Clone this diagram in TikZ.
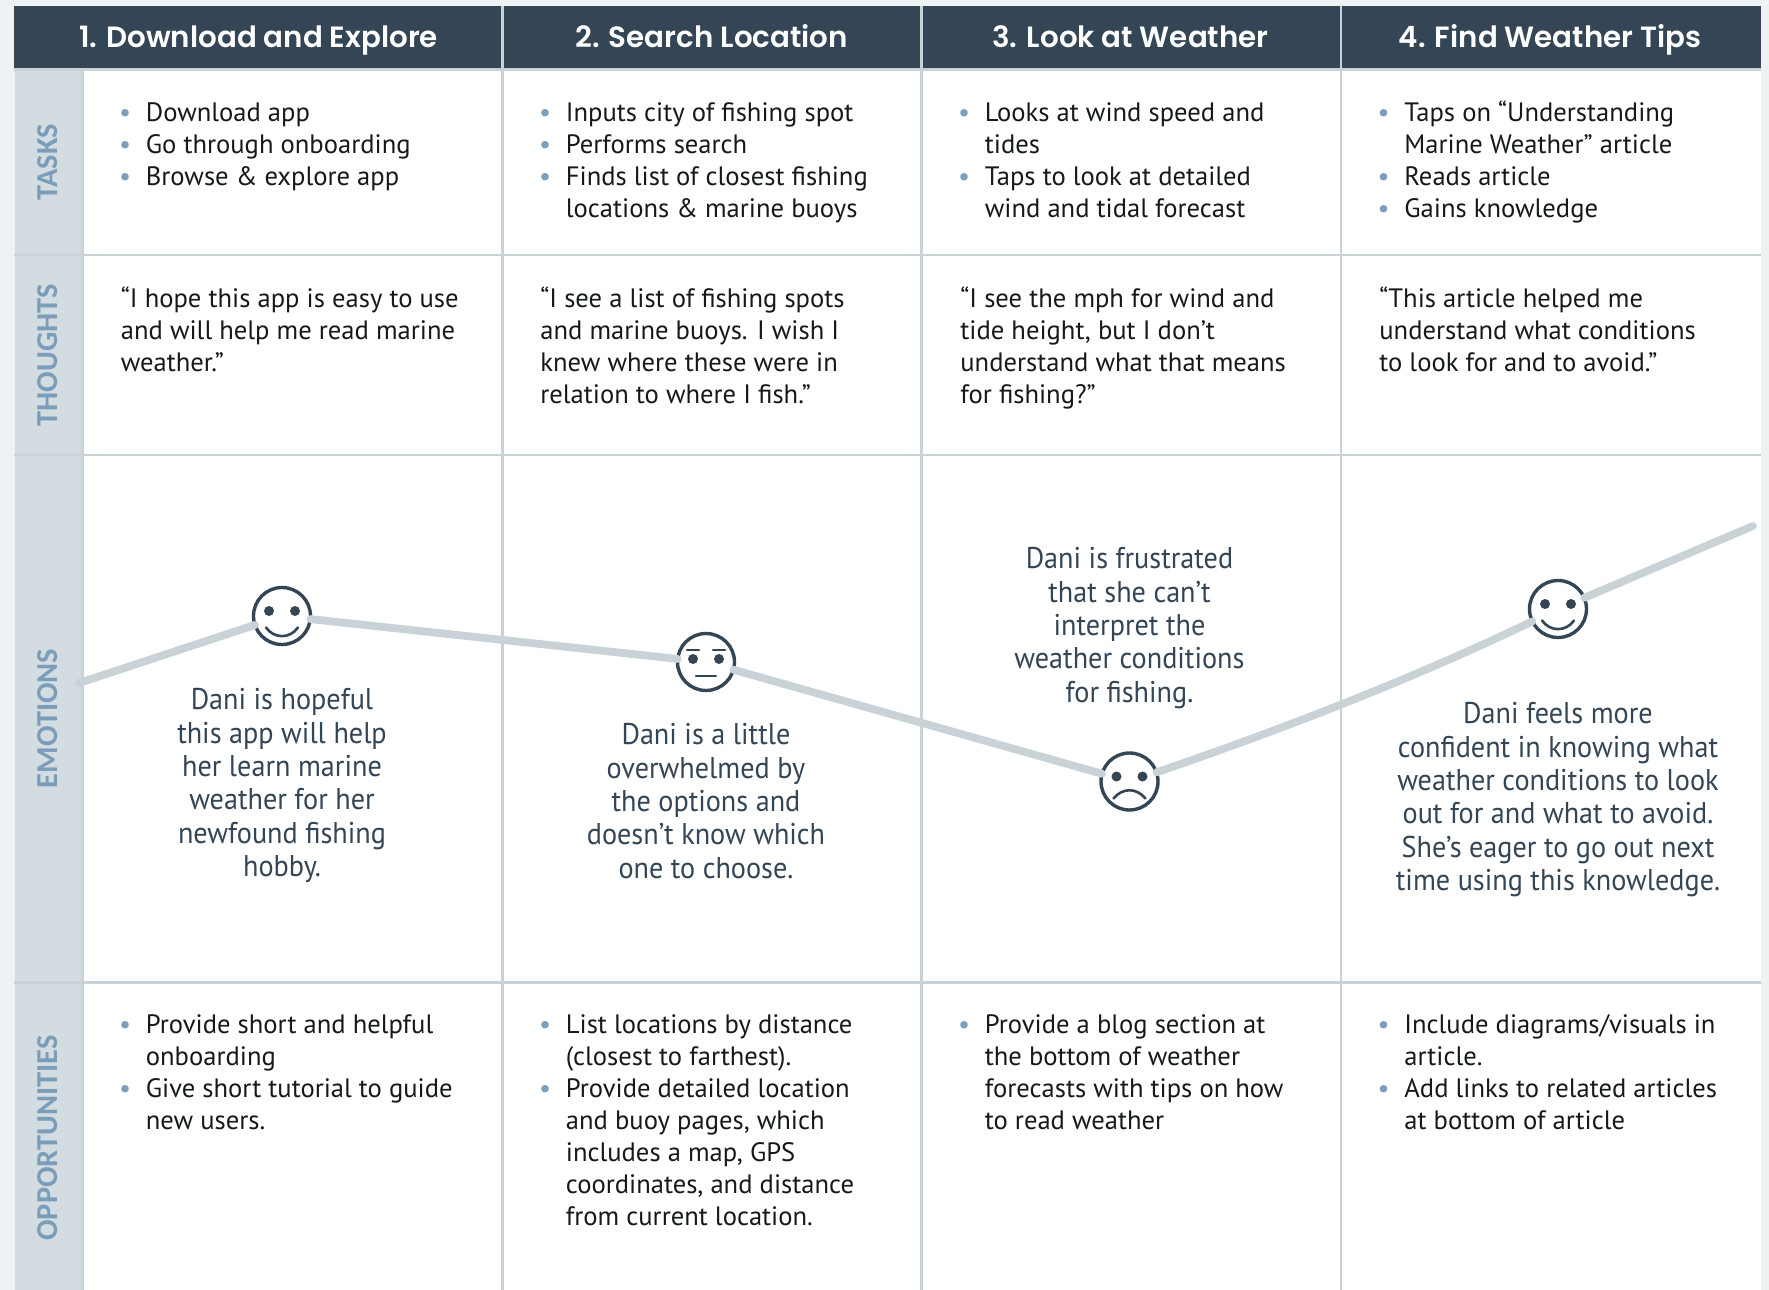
\documentclass[tikz,border=0pt]{standalone}
\usepackage{fontspec}
\setmainfont{PT Sans}
\newfontfamily\headfont{Poppins SemiBold}
\newfontfamily\sidefont{Carlito}
\newfontfamily\emofont[FakeStretch=0.94]{PT Sans}
\definecolor{pagebg}{HTML}{EEF2F3}
\definecolor{navy}{HTML}{344655}
\definecolor{rulec}{HTML}{C9D2D6}
\definecolor{sidec}{HTML}{D3DCE0}
\definecolor{sidet}{HTML}{7A9DBA}
\definecolor{bulc}{HTML}{7A9FBC}
\definecolor{inkc}{HTML}{15191C}
\newcommand{\bl}{\vphantom{“}\llap{\textcolor{bulc}{•}\hspace{7.4pt}}}
\tikzset{
  x=0.5pt,y=-0.5pt,
  headlabel/.style={anchor=base,text=white,font=\headfont\fontsize{14.65}{18}\selectfont,inner sep=0pt},
  sidelabel/.style={text=sidet,font=\sidefont\bfseries\fontsize{15.2}{16}\selectfont,rotate=90,inner sep=0pt},
  cell/.style={anchor=north west,align=left,inner sep=0pt,text=inkc,font=\fontsize{13.3}{16}\selectfont},
  emo/.style={anchor=north,align=center,inner sep=0pt,text=navy,font=\emofont\fontsize{15}{16.7}\selectfont},
  grid/.style={draw=rulec,line width=1.4pt},
  wave/.style={draw=rulec,line width=3.9pt,line cap=round},
  face/.style={circle,draw=navy,line width=1.7pt,fill=white,minimum size=28.5pt,inner sep=0pt,outer sep=0pt},
  facepart/.style={draw=navy,line width=1.3pt,line cap=round},
  eye/.style={fill=navy,draw=none},
}
\begin{document}
\begin{tikzpicture}
\useasboundingbox (0,0) rectangle (1769,1290);
\fill[pagebg] (0,0) rectangle (1769,1290);
\fill[white] (83,70) rectangle (1761,1290);
\fill[sidec] (14.5,70) rectangle (83,1290);
\fill[navy] (14,6) rectangle (1761,69);
% grid
\draw[grid] (82.5,70) -- (82.5,1290);
\draw[grid] (14,69.5) -- (1761,69.5);
\draw[grid] (14,255) -- (1761,255);
\draw[grid] (14,455) -- (1761,455);
\draw[grid] (14,982.5) -- (1761,982.5);
\draw[grid] (502.5,6) -- (502.5,1290);
\draw[grid] (921.5,6) -- (921.5,1290);
\draw[grid] (1341,6) -- (1341,1290);
% headers
\node[headlabel] (h1) at (258.5,47) {1. Download and Explore};
\node[headlabel] (h2) at (711.5,47) {2. Search Location};
\node[headlabel] (h3) at (1130.5,47) {3. Look at Weather};
\node[headlabel] (h4) at (1550,47) {4. Find Weather Tips};
% side labels
\node[sidelabel] (s1) at (48,162) {TASKS};
\node[sidelabel] (s2) at (48,355) {THOUGHTS};
\node[sidelabel] (s3) at (48,718.5) {EMOTIONS};
\node[sidelabel] (s4) at (48,1138) {OPPORTUNITIES};
% tasks
\node[cell] (t1) at (145.5,100.8) {\bl Download app\\\bl Go through onboarding\\\bl Browse \& explore app};
\node[cell] (t2) at (565.5,100.8) {\bl Inputs city of fishing spot\\\bl Performs search\\\bl Finds list of closest fishing\\locations \& marine buoys};
\node[cell] (t3) at (984.5,100.8) {\bl Looks at wind speed and\\tides\\\bl Taps to look at detailed\\wind and tidal forecast};
\node[cell] (t4) at (1404,100.8) {\bl Taps on “Understanding\\Marine Weather” article\\\bl Reads article\\\bl Gains knowledge};
% thoughts
\node[cell] (q1) at (120.5,286.8) {“I hope this app is easy to use\\and will help me read marine\\weather.”};
\node[cell] (q2) at (540,286.8) {“I see a list of fishing spots\\and marine buoys. I wish I\\knew where these were in\\relation to where I fish.”};
\node[cell] (q3) at (960,286.8) {“I see the mph for wind and\\tide height, but I don’t\\understand what that means\\for fishing?”};
\node[cell] (q4) at (1379,286.8) {“This article helped me\\understand what conditions\\to look for and to avoid.”};
% opportunities
\node[cell] (o1) at (145.5,1012.6) {\bl Provide short and helpful\\onboarding\\\bl Give short tutorial to guide\\new users.};
\node[cell] (o2) at (565.5,1012.6) {\bl List locations by distance\\(closest to farthest).\\\bl Provide detailed location\\and buoy pages, which\\includes a map, GPS\\coordinates, and distance\\from current location.};
\node[cell] (o3) at (984.5,1012.6) {\bl Provide a blog section at\\the bottom of weather\\forecasts with tips on how\\to read weather};
\node[cell] (o4) at (1404,1012.6) {\bl Include diagrams/visuals in\\article.\\\bl Add links to related articles\\at bottom of article};
% emotion curve
\coordinate (c0) at (79,683);
\node[face] (f1) at (282,616) {};
\node[face] (f2) at (706,662) {};
\node[face] (f3) at (1129.5,781.5) {};
\coordinate (cb1) at (1260,737);
\coordinate (cb2) at (1400,685);
\node[face] (f4) at (1558,609) {};
\coordinate (c9) at (1753,526);
\draw[wave] (c0) -- (f1);
\draw[wave] (f1) -- (f2);
\draw[wave] (f2) -- (f3);
\draw[wave] (f3) .. controls (cb1) and (cb2) .. (f4);
\draw[wave] (f4) -- (c9);
% faces
\newcommand{\happyface}{%
  \fill[eye] (-13,-5) circle (2.5pt); \fill[eye] (13,-5) circle (2.5pt);
  \draw[facepart] (-16,11.5) .. controls (-8,23) and (8,23) .. (16,11.5);}
\begin{scope}[shift={(f1.center)}]\happyface\end{scope}
\begin{scope}[shift={(f4.center)}]\happyface\end{scope}
\begin{scope}[shift={(f2.center)}]
  \fill[eye] (-13,-3) circle (2.5pt); \fill[eye] (13,-3) circle (2.5pt);
  \draw[facepart] (-19,-12) -- (-7,-12);
  \draw[facepart] (7,-12) -- (19,-12);
  \draw[facepart] (-10,14) -- (10,14);
\end{scope}
\begin{scope}[shift={(f3.center)}]
  \fill[eye] (-13,-5) circle (2.5pt); \fill[eye] (13,-5) circle (2.5pt);
  \draw[facepart] (-16,17) .. controls (-7,6) and (7,6) .. (16,17);
\end{scope}
% emotion text
\node[emo] (e1) at (282,688) {Dani is hopeful\\this app will help\\her learn marine\\weather for her\\newfound fishing\\hobby.};
\node[emo] (e2) at (706,723) {Dani is a little\\overwhelmed by\\the options and\\doesn’t know which\\one to choose.};
\node[emo] (e3) at (1129.5,547) {Dani is frustrated\\that she can’t\\interpret the\\weather conditions\\for fishing.};
\node[emo] (e4) at (1558,702) {Dani feels more\\confident in knowing what\\weather conditions to look\\out for and what to avoid.\\She’s eager to go out next\\time using this knowledge.};
\end{tikzpicture}
\end{document}
